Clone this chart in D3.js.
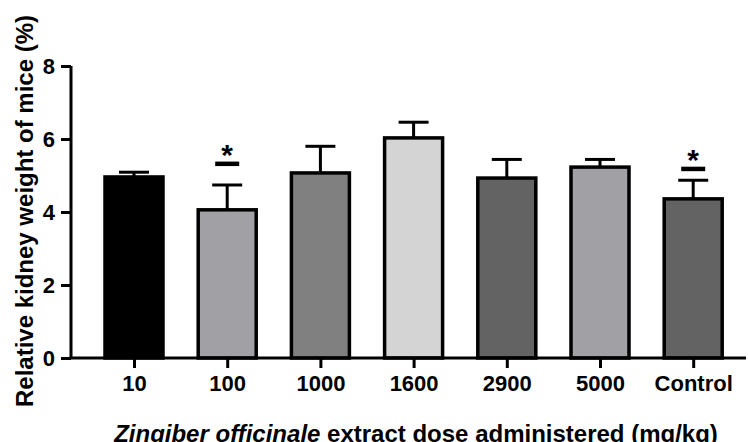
<!DOCTYPE html>
<html lang="en">
<head>
    <meta charset="UTF-8">
    <title>Relative kidney weight</title>
    <script src="https://d3js.org/d3.v7.min.js"></script>
    <style>
        body { margin: 0; background: #fff; }
        svg { display: block; font-family: "Liberation Sans", Arial, sans-serif; }
    </style>
</head>
<body>
    <svg width="748" height="442"></svg>

    <script>
        // Data
        const doses = ["10", "100", "1000", "1600", "2900", "5000", "Control"];
        const means = [4.96, 4.06, 5.07, 6.03, 4.93, 5.23, 4.36];
        const errors = [0.13, 0.68, 0.73, 0.43, 0.51, 0.21, 0.51];
        const fills = ["#000000", "#a1a0a4", "#808080", "#d4d4d4", "#636363", "#a1a0a4", "#636363"];
        // level (in %) of the significance dash, null = not significant
        const sigLevels = [null, 5.32, null, null, null, null, 5.18];
        const yTicks = [0, 2, 4, 6, 8];

        const width = 748, height = 442;
        const axisX = 71, axisRight = 746;

        const svg = d3.select("svg");

        const x = d3.scalePoint()
                    .domain(doses)
                    .range([87.4, 739.8])
                    .padding(0.5);

        const y = d3.scaleLinear()
                    .domain([0, 8])
                    .range([358, 66]);

        const barW = 58;
        const capW = 30;

        const data = doses.map((d, i) => ({
            dose: d, mean: means[i], err: errors[i], fill: fills[i], sig: sigLevels[i]
        }));

        // Bars
        svg.selectAll(".bar")
           .data(data)
           .enter().append("rect")
           .attr("class", "bar")
           .attr("x", d => x(d.dose) - barW / 2)
           .attr("y", d => y(d.mean))
           .attr("width", barW)
           .attr("height", d => y(0) - y(d.mean))
           .attr("fill", d => d.fill)
           .attr("stroke", "#000")
           .attr("stroke-width", 3.5);

        // Error bars (upper only)
        svg.selectAll(".err")
           .data(data)
           .enter().append("line")
           .attr("x1", d => x(d.dose))
           .attr("x2", d => x(d.dose))
           .attr("y1", d => y(d.mean))
           .attr("y2", d => y(d.mean + d.err))
           .attr("stroke", "#000")
           .attr("stroke-width", 3);

        svg.selectAll(".cap")
           .data(data)
           .enter().append("line")
           .attr("x1", d => x(d.dose) - capW / 2)
           .attr("x2", d => x(d.dose) + capW / 2)
           .attr("y1", d => y(d.mean + d.err))
           .attr("y2", d => y(d.mean + d.err))
           .attr("stroke", "#000")
           .attr("stroke-width", 3);

        // Significance marks
        const sigData = data.filter(d => d.sig !== null);
        svg.selectAll(".sigline")
           .data(sigData)
           .enter().append("line")
           .attr("x1", d => x(d.dose) - 12)
           .attr("x2", d => x(d.dose) + 12)
           .attr("y1", d => y(d.sig))
           .attr("y2", d => y(d.sig))
           .attr("stroke", "#000")
           .attr("stroke-width", 4.5);

        svg.selectAll(".star")
           .data(sigData)
           .enter().append("text")
           .attr("x", d => x(d.dose))
           .attr("y", d => y(d.sig) + 1)
           .attr("text-anchor", "middle")
           .style("font-size", "30px")
           .style("font-weight", "bold")
           .text("*");

        // Y axis
        const yAxis = svg.append("g")
           .attr("transform", `translate(${axisX},0)`)
           .call(d3.axisLeft(y).tickValues(yTicks).tickSize(10).tickPadding(6));
        yAxis.select(".domain").attr("stroke-width", 3).attr("d", `M0,${y(0)}V${y(8)}`);
        yAxis.selectAll(".tick line").attr("stroke-width", 3);
        yAxis.selectAll(".tick text")
             .style("font-size", "22px")
             .style("font-weight", "bold")
             .style("font-family", "Liberation Sans, Arial, sans-serif")
             .attr("fill", "#000");

        // X axis
        const xAxis = svg.append("g")
           .attr("transform", `translate(0,${y(0)})`)
           .call(d3.axisBottom(x).tickSize(10).tickPadding(7));
        xAxis.select(".domain").attr("stroke-width", 3).attr("d", `M${axisX - 1.5},0H${axisRight}`);
        xAxis.selectAll(".tick line").attr("stroke-width", 3);
        xAxis.selectAll(".tick text")
             .style("font-size", "22px")
             .style("font-weight", "bold")
             .style("font-family", "Liberation Sans, Arial, sans-serif")
             .attr("fill", "#000");

        // Y axis title
        svg.append("text")
           .attr("transform", "rotate(-90)")
           .attr("x", -211)
           .attr("y", 33)
           .attr("text-anchor", "middle")
           .style("font-size", "24px")
           .style("font-weight", "bold")
           .text("Relative kidney weight of mice (%)");

        // X axis title
        const xt = svg.append("text")
           .attr("x", 416)
           .attr("y", 442)
           .attr("text-anchor", "middle")
           .style("font-size", "24px")
           .style("font-weight", "bold");
        xt.append("tspan").style("font-style", "italic").text("Zingiber officinale");
        xt.append("tspan").text(" extract dose administered (mg/kg)");
    </script>
</body>
</html>
